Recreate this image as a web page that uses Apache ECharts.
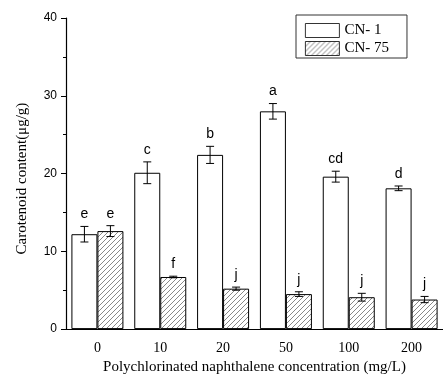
<!DOCTYPE html>
<html><head><meta charset="utf-8">
<script src="https://cdn.jsdelivr.net/npm/echarts@6/dist/echarts.min.js"></script>
<style>html,body{margin:0;padding:0;background:#fff}#c{width:443px;height:380px}</style>
</head><body><div id="c"></div>
<script>
const categories = ['0', '10', '20', '50', '100', '200'];
const cn1 = [12.2, 20.1, 22.4, 28.0, 19.6, 18.1];
const cn1Err = [1.0, 1.4, 1.1, 1.0, 0.7, 0.3];
const cn75 = [12.6, 6.7, 5.2, 4.5, 4.1, 3.8];
const cn75Err = [0.7, 0.1, 0.2, 0.3, 0.5, 0.4];
const cn1Letters = ['e', 'c', 'b', 'a', 'cd', 'd'];
const cn75Letters = ['e', 'f', 'j', 'j', 'j', 'j'];
const yTicks = [0, 10, 20, 30, 40];

const serif = '"Liberation Serif", "Times New Roman", serif';
const sans = '"Liberation Sans", Arial, sans-serif';

// hatch pattern
const pc = document.createElement('canvas');
pc.width = 5; pc.height = 5;
const g = pc.getContext('2d');
g.fillStyle = '#fff'; g.fillRect(0, 0, 5, 5);
g.strokeStyle = '#6a6a6a'; g.lineWidth = 0.8;
g.beginPath();
g.moveTo(-1, 6); g.lineTo(6, -1);
g.moveTo(-1, 1); g.lineTo(1, -1);
g.moveTo(4, 6); g.lineTo(6, 4);
g.stroke();

const BW = 26;
function errSeries(values, errs, letters, offset) {
  return {
    type: 'custom', silent: true, z: 5,
    data: values.map((v, i) => [i, v, errs[i]]),
    renderItem: function (params, api) {
      const i = api.value(0), v = api.value(1), e = api.value(2);
      const x = api.coord([i, v])[0] + offset;
      const top = api.coord([i, v + e])[1];
      const bot = api.coord([i, v - e])[1];
      const st = { stroke: '#000', lineWidth: 1 };
      return {
        type: 'group', children: [
          { type: 'line', shape: { x1: x, y1: top, x2: x, y2: bot }, style: st },
          { type: 'line', shape: { x1: x - 4, y1: top, x2: x + 4, y2: top }, style: st },
          { type: 'line', shape: { x1: x - 4, y1: bot, x2: x + 4, y2: bot }, style: st },
          { type: 'text', style: { text: letters[params.dataIndex], x: x, y: top - 5, align: 'center', verticalAlign: 'bottom', font: '14px ' + sans, fill: '#000' } }
        ]
      };
    }
  };
}

const chart = echarts.init(document.getElementById('c'), null, { renderer: 'canvas' });
chart.setOption({
  animation: false,
  backgroundColor: '#fff',
  grid: { left: 66, top: 18, bottom: 45, right: -10, containLabel: false },
  legend: {
    orient: 'vertical', left: 296, top: 15,
    data: ['CN- 1', 'CN- 75'],
    backgroundColor: '#fff', borderColor: '#333', borderWidth: 1,
    padding: [8, 18, 2, 9], itemGap: 3, itemWidth: 34, itemHeight: 14,
    textStyle: { fontFamily: serif, fontSize: 15, color: '#000' },
    itemStyle: { borderWidth: 0.8 },
    icon: 'rect'
  },
  xAxis: [{
    type: 'category', data: categories,
    axisLine: { lineStyle: { color: '#000', width: 1.2 } },
    axisTick: { alignWithLabel: true, length: 5, lineStyle: { color: '#000' } },
    axisLabel: { color: '#000', fontFamily: serif, fontSize: 14, margin: 12 },
    name: 'Polychlorinated naphthalene concentration (mg/L)',
    nameLocation: 'middle', nameGap: 30,
    nameTextStyle: { fontFamily: serif, fontSize: 15, color: '#000' }
  }, {
    type: 'category', data: categories, position: 'bottom',
    axisLine: { show: false },
    axisTick: { inside: true, length: 3, lineStyle: { color: '#000' } },
    axisLabel: { show: false }
  }],
  yAxis: {
    type: 'value', min: yTicks[0], max: yTicks[yTicks.length - 1], interval: 10,
    axisLine: { show: true, lineStyle: { color: '#000', width: 1.2 } },
    axisTick: { show: true, length: 5, lineStyle: { color: '#000' } },
    minorTick: { show: true, splitNumber: 2, length: 3, lineStyle: { color: '#000' } },
    splitLine: { show: false },
    axisLabel: { color: '#000', fontFamily: sans, fontSize: 12, margin: 9 },
    name: 'Carotenoid content(μg/g)', nameLocation: 'middle', nameGap: 36,
    nameTextStyle: { fontFamily: serif, fontSize: 15, color: '#000', padding: [0, 10, 0, 0] }
  },
  series: [
    { name: 'CN- 1', type: 'bar', data: cn1, barWidth: BW, barGap: '0%',
      itemStyle: { color: '#fff', borderColor: '#000', borderWidth: 1 } },
    { name: 'CN- 75', type: 'bar', data: cn75, barWidth: BW, barGap: '0%',
      itemStyle: { color: { image: pc, repeat: 'repeat' }, borderColor: '#000', borderWidth: 1 } },
    errSeries(cn1, cn1Err, cn1Letters, -BW / 2),
    errSeries(cn75, cn75Err, cn75Letters, BW / 2)
  ]
});
</script></body></html>
